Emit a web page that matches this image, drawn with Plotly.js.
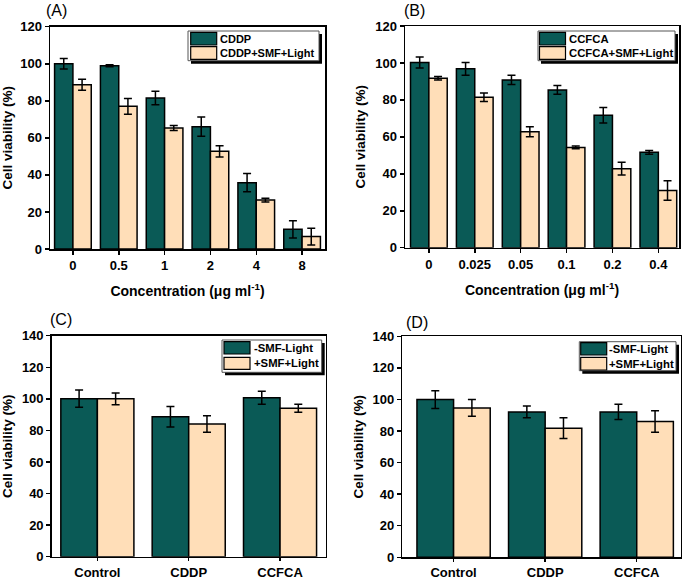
<!DOCTYPE html>
<html><head><meta charset="utf-8">
<script src="https://cdn.plot.ly/plotly-3.0.1.min.js"></script>
<style>html,body{margin:0;padding:0;background:#fff}#chart{width:685px;height:579px}</style>
</head><body><div id="chart"></div>
<script>
// ---- Data ----
const concA = ['0','0.5','1','2','4','8'];
const cddp = [100, 98.9, 81.5, 66.0, 35.8, 10.6];
const cddpErr = [2.8, 0.5, 3.6, 5.2, 4.9, 4.7];
const cddpSL = [88.7, 77.0, 65.3, 52.7, 26.4, 6.7];
const cddpSLErr = [3.0, 4.2, 1.3, 3.0, 1.0, 4.5];

const concB = ['0','0.025','0.05','0.1','0.2','0.4'];
const ccfca = [100.2, 96.8, 90.8, 85.4, 71.7, 51.6];
const ccfcaErr = [3.0, 3.5, 2.5, 2.4, 4.2, 1.0];
const ccfcaSL = [91.7, 81.4, 62.8, 54.3, 42.8, 31.0];
const ccfcaSLErr = [0.9, 2.3, 2.7, 0.7, 3.5, 5.3];

const groups = ['Control','CDDP','CCFCA'];
const cNo = [100.1, 88.7, 100.7];
const cNoErr = [5.5, 6.5, 4.1];
const cYes = [100.0, 84.1, 94.0];
const cYesErr = [3.7, 5.2, 2.5];
const dNo = [99.9, 92.1, 92.1];
const dNoErr = [5.6, 3.7, 4.8];
const dYes = [94.6, 81.8, 86.0];
const dYesErr = [5.3, 6.6, 6.8];

const namesA = ['CDDP', 'CDDP+SMF+Light'];
const namesB = ['CCFCA', 'CCFCA+SMF+Light'];
const namesCD = ['-SMF-Light', '+SMF+Light'];

// ---- Style ----
const DARK = '#0a5a56';
const PEACH = '#ffdeb8';
const FAM = 'Liberation Sans, Arial, sans-serif';
const W = 685, H = 579;
const px = x => x / W;
const py = y => 1 - y / H;

function bar(x, y, err, name, color, xa, ya) {
  return {
    type: 'bar', x: x, y: y, name: name, xaxis: xa, yaxis: ya, showlegend: false,
    marker: {color: color, line: {color: '#000', width: 1.5}},
    error_y: {type: 'data', array: err, visible: true, color: '#000', thickness: 1.5, width: 4}
  };
}

const traces = [
  bar(concA, cddp, cddpErr, namesA[0], DARK, 'x', 'y'),
  bar(concA, cddpSL, cddpSLErr, namesA[1], PEACH, 'x', 'y'),
  bar(concB, ccfca, ccfcaErr, namesB[0], DARK, 'x2', 'y2'),
  bar(concB, ccfcaSL, ccfcaSLErr, namesB[1], PEACH, 'x2', 'y2'),
  bar(groups, cNo, cNoErr, namesCD[0], DARK, 'x3', 'y3'),
  bar(groups, cYes, cYesErr, namesCD[1], PEACH, 'x3', 'y3'),
  bar(groups, dNo, dNoErr, namesCD[0], DARK, 'x4', 'y4'),
  bar(groups, dYes, dYesErr, namesCD[1], PEACH, 'x4', 'y4')
];

const tickFont = {family: FAM, size: 13, color: '#000', weight: 700};
const titleFont = {family: FAM, size: 14, color: '#000', weight: 700};

function xax(d, anchor, range, title, tl) {
  const a = {
    domain: d, anchor: anchor, type: 'category', range: range,
    showline: true, linecolor: '#000', linewidth: 1.5, mirror: true,
    ticks: 'outside', ticklen: tl, tickwidth: 1.5, tickcolor: '#000',
    showgrid: false, zeroline: false, tickfont: tickFont, fixedrange: true
  };
  if (title) a.title = {text: title, font: titleFont, standoff: 14};
  return a;
}
function yax(d, anchor, max) {
  return {
    domain: d, anchor: anchor, range: [0, max], dtick: 20,
    showline: true, linecolor: '#000', linewidth: 1.5, mirror: true,
    ticks: 'outside', ticklen: 4, tickwidth: 1.5, tickcolor: '#000',
    showgrid: false, zeroline: false, tickfont: tickFont, fixedrange: true,
    title: {text: 'Cell viability (%)', font: {family: FAM, size: 13.5, color: '#000', weight: 700}, standoff: 6}
  };
}

const concTitle = 'Concentration (μg ml<sup>-1</sup>)';

const shapes = [];
const annotations = [];

function legend(box, sx, sy1, sy2, tx, ty1, ty2, names, fs) {
  shapes.push({type: 'rect', xref: 'paper', yref: 'paper',
    x0: px(box[0] + 3), x1: px(box[2] + 3), y0: py(box[1] + 3), y1: py(box[3] + 3),
    fillcolor: '#000', line: {width: 0}});
  shapes.push({type: 'rect', xref: 'paper', yref: 'paper',
    x0: px(box[0]), x1: px(box[2]), y0: py(box[1]), y1: py(box[3]),
    fillcolor: '#fff', line: {color: '#555', width: 1}});
  shapes.push({type: 'rect', xref: 'paper', yref: 'paper',
    x0: px(sx[0]), x1: px(sx[1]), y0: py(sy1[0]), y1: py(sy1[1]),
    fillcolor: DARK, line: {color: '#000', width: 1.2}});
  shapes.push({type: 'rect', xref: 'paper', yref: 'paper',
    x0: px(sx[0]), x1: px(sx[1]), y0: py(sy2[0]), y1: py(sy2[1]),
    fillcolor: PEACH, line: {color: '#000', width: 1.2}});
  [[names[0], ty1], [names[1], ty2]].forEach(function (p) {
    annotations.push({text: p[0], xref: 'paper', yref: 'paper', x: px(tx), y: py(p[1]),
      xanchor: 'left', yanchor: 'middle', showarrow: false, borderpad: 0,
      font: {family: FAM, size: fs, color: '#000', weight: 700}});
  });
}

legend([188, 31, 319, 60.7], [190.7, 216.7], [32.3, 45], [46.7, 59.3], 219, 39.3, 53.3, namesA, 11);
legend([538, 31, 675, 60.7], [539.5, 565.5], [32.3, 45], [46.7, 59.3], 567.5, 39.3, 53.3, namesB, 11.3);
legend([222, 340, 321.7, 372.3], [224, 250], [341.7, 354], [357.3, 369.3], 252.5, 347.7, 362.7, namesCD, 11.3);
legend([579.3, 341.7, 676, 370.7], [580.7, 606.7], [342.7, 355], [357.3, 370], 607.5, 349.3, 364, namesCD, 11.3);

[['(A)', 56.5, 10], ['(B)', 414, 10], ['(C)', 61, 319], ['(D)', 416.5, 322]].forEach(function (p) {
  annotations.push({text: p[0], xref: 'paper', yref: 'paper', x: px(p[1]), y: py(p[2]),
    xanchor: 'center', yanchor: 'middle', showarrow: false,
    font: {family: FAM, size: 16, color: '#000'}});
});

const layout = {
  width: W, height: H, autosize: false,
  margin: {l: 0, r: 0, t: 0, b: 0},
  paper_bgcolor: '#fff', plot_bgcolor: '#fff',
  barmode: 'group', bargap: 0.2, bargroupgap: 0,
  showlegend: false,
  font: {family: FAM, color: '#000'},
  xaxis: xax([px(50), px(325)], 'y', [-0.5, 5.5], concTitle, 4),
  yaxis: yax([py(249), py(26.7)], 'x', 120),
  xaxis2: xax([px(405), px(679)], 'y2', [-0.52, 5.45], concTitle, 4),
  yaxis2: yax([py(247.7), py(26)], 'x2', 120),
  xaxis3: xax([px(51.7), px(325.7)], 'y3', [-0.5, 2.5], null, 3),
  yaxis3: yax([py(556.7), py(335.7)], 'x3', 140),
  xaxis4: xax([px(402.3), px(680.7)], 'y4', [-0.56, 2.48], null, 3),
  yaxis4: yax([py(557.3), py(336.3)], 'x4', 140),
  shapes: shapes,
  annotations: annotations
};

Plotly.newPlot('chart', traces, layout, {displayModeBar: false, staticPlot: true});
</script>
</body></html>
